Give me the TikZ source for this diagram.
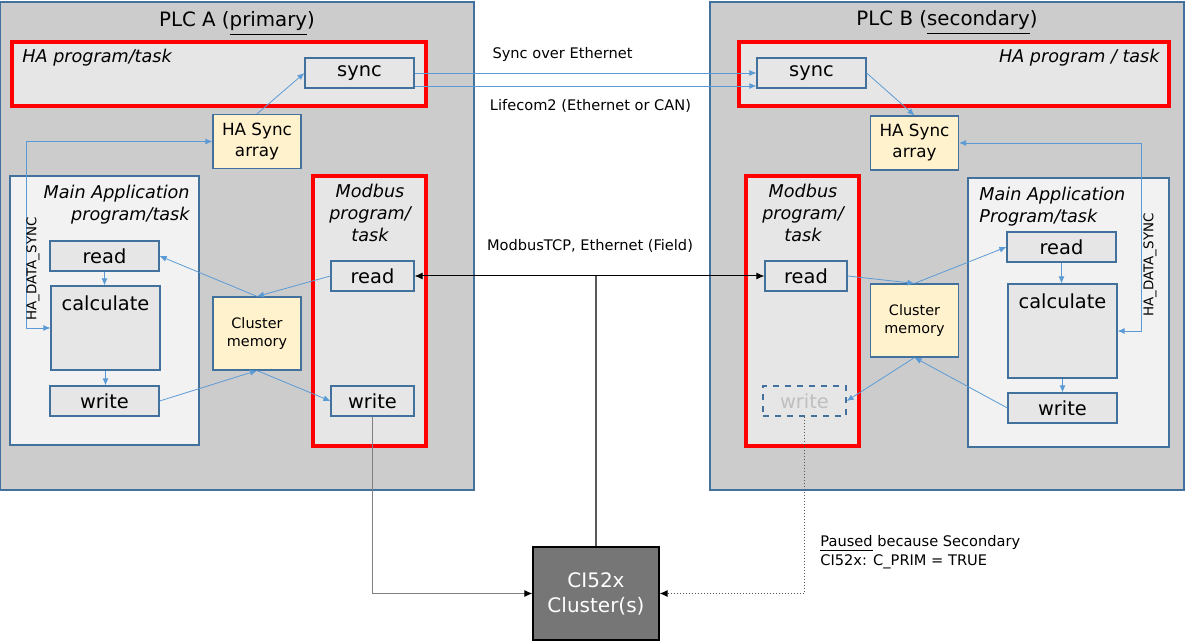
\documentclass[tikz,border=0pt]{standalone}
\usepackage{fontspec}
\setmainfont{DejaVu Sans}
\usetikzlibrary{arrows.meta}
\definecolor{plcgray}{RGB}{204,204,204}
\definecolor{frameblue}{RGB}{65,113,156}
\definecolor{taskred}{RGB}{255,0,0}
\definecolor{taskfill}{RGB}{230,230,230}
\definecolor{appfill}{RGB}{242,242,242}
\definecolor{memfill}{RGB}{255,242,204}
\definecolor{linkblue}{RGB}{91,155,213}
\definecolor{clustergray}{RGB}{118,118,118}
\definecolor{pausedgray}{RGB}{191,191,191}
\definecolor{wiregray}{RGB}{89,89,89}

\begin{document}
\begin{tikzpicture}[x=0.5pt, y=-0.5pt,
  plc/.style={draw=frameblue, fill=plcgray, line width=0.6pt, inner sep=0pt, minimum width=237pt, minimum height=244pt},
  taskbox/.style={draw=taskred, fill=taskfill, line width=2pt, inner sep=0pt},
  appbox/.style={draw=frameblue, fill=appfill, line width=0.6pt, inner sep=0pt},
  stepbox/.style={draw=frameblue, fill=taskfill, line width=0.6pt, inner sep=0pt, minimum width=54.5pt, minimum height=15pt, font=\fontsize{9.7}{11}\selectfont},
  membox/.style={draw=frameblue, fill=memfill, line width=0.6pt, inner sep=0pt, minimum width=44pt, align=center},
  tasklabel/.style={inner sep=0pt, font=\fontsize{8.8}{11}\selectfont\itshape},
  linklabel/.style={inner sep=0pt, font=\fontsize{7.3}{9.5}\selectfont},
  synclabel/.style={inner sep=0pt, rotate=90, font=\fontsize{6.7}{8}\selectfont},
  flow/.style={draw=linkblue, line width=0.4pt, -{Latex[length=3.5pt,width=3pt]}},
  both/.style={draw=linkblue, line width=0.4pt, {Latex[length=3.5pt,width=3pt]}-{Latex[length=3.5pt,width=3pt]}}
]
  \useasboundingbox (0,0) rectangle (1185,641);

  % PLC frames
  \node[plc] (plcA) at (237,246) {};
  \node[plc] (plcB) at (947,246) {};
  \node[anchor=base, inner sep=0pt, font=\fontsize{9.9}{12}\selectfont] (titleA) at (237,27) {PLC A (\underline{primary})};
  \node[anchor=base, inner sep=0pt, font=\fontsize{9.9}{12}\selectfont] (titleB) at (947,26) {PLC B (\underline{secondary})};

  % HA program/task
  \node[taskbox, minimum width=207pt, minimum height=32pt] (haA) at (219,74) {};
  \node[taskbox, minimum width=215pt, minimum height=32pt] (haB) at (954,74) {};
  \node[tasklabel, anchor=base west] (haAlbl) at (22,63) {HA program/task};
  \node[tasklabel, anchor=base east] (haBlbl) at (1160,63) {HA program / task};
  \node[stepbox] (syncA) at (359.5,73) {sync};
  \node[stepbox] (syncB) at (811.5,73) {sync};
  \node[membox, minimum height=27pt, font=\fontsize{8.4}{10.5}\selectfont] (arrA) at (257,141.5) {HA Sync\\array};
  \node[membox, minimum height=27pt, font=\fontsize{8.4}{10.5}\selectfont] (arrB) at (914.5,143) {HA Sync\\array};

  % Main application program/task
  \node[appbox, minimum width=94.5pt, minimum height=134.5pt] (appA) at (104.5,310.5) {};
  \node[appbox, minimum width=100.5pt, minimum height=134.5pt] (appB) at (1068.5,312.5) {};
  \node[tasklabel, anchor=north east, align=right] (appAlbl) at (190,185) {Main Application\\program/task};
  \node[tasklabel, anchor=north west, align=left] (appBlbl) at (979,187) {Main Application\\Program/task};
  \node[stepbox] (readA) at (104.5,256) {read};
  \node[stepbox, minimum height=42pt, label={[anchor=north, inner sep=5pt, font=\fontsize{9.7}{11}\selectfont]north:calculate}] (calcA) at (105.5,328) {};
  \node[stepbox] (writeA) at (104.5,401) {write};
  \node[stepbox] (readB) at (1061.5,247) {read};
  \node[stepbox, minimum height=47pt, label={[anchor=north, inner sep=5pt, font=\fontsize{9.7}{11}\selectfont]north:calculate}] (calcB) at (1062.5,331) {};
  \node[stepbox] (writeB) at (1062.5,408) {write};

  % Modbus program/task
  \node[taskbox, minimum width=56.5pt, minimum height=135pt] (mbA) at (369.5,311) {};
  \node[taskbox, minimum width=56.5pt, minimum height=135pt] (mbB) at (802.5,311) {};
  \node[tasklabel, anchor=north, align=center] (mbAlbl) at (370,184) {Modbus\\program/\\task};
  \node[tasklabel, anchor=north, align=center] (mbBlbl) at (803,184) {Modbus\\program/\\task};
  \node[stepbox, minimum width=41.5pt] (mreadA) at (372.5,276) {read};
  \node[stepbox, minimum width=41.5pt] (mwriteA) at (372.5,401) {write};
  \node[stepbox, minimum width=41pt] (mreadB) at (806,276) {read};
  \node[stepbox, minimum width=41.5pt, dashed, text=pausedgray] (mwriteB) at (804.5,401) {write};

  % Cluster memory
  \node[membox, minimum height=36.5pt, font=\fontsize{7.2}{9}\selectfont] (memA) at (257,333.5) {Cluster\\memory};
  \node[membox, minimum height=36.5pt, font=\fontsize{7.2}{9}\selectfont] (memB) at (914.5,320.5) {Cluster\\memory};

  % CI52x
  \node[draw=black, fill=clustergray, line width=0.6pt, text=white, align=center, minimum width=63pt, minimum height=46.5pt, font=\fontsize{10}{12.5}\selectfont] (ci52) at (596,593.5) {CI52x\\Cluster(s)};

  % flows in PLC A
  \draw[flow] (arrA.north) -- (syncA.west);
  \draw[flow] (readA.south) -- (readA.south |- calcA.north);
  \draw[flow] (calcA.south) -- (calcA.south |- writeA.north);
  \draw[flow] (memA.north) -- (readA.east);
  \draw[flow] (mreadA.west) -- (memA.north);
  \draw[flow] (writeA.east) -- (memA.south);
  \draw[flow] (memA.south) -- (mwriteA.west);
  \draw[both] (calcA.west) -- ++(-24,0) |- (arrA.west);
  \node[synclabel] (dsA) at (33,269) {HA\_DATA\_SYNC};

  % flows in PLC B
  \draw[flow] (syncB.east) -- (arrB.north);
  \draw[flow] (readB.south) -- (readB.south |- calcB.north);
  \draw[flow] (calcB.south) -- (calcB.south |- writeB.north);
  \draw[flow] (mreadB.east) -- (memB.north);
  \draw[flow] (memB.north) -- (readB.west);
  \draw[flow] (memB.south) -- (mwriteB.east);
  \draw[flow] (writeB.west) -- (memB.south);
  \draw[both] (arrB.east) -- ++(182,0) |- (calcB.east);
  \node[synclabel] (dsB) at (1150,265) {HA\_DATA\_SYNC};

  % sync links
  \draw[flow] (syncA.east) -- (syncB.west);
  \draw[flow] ([yshift=-6.5pt]syncA.east) -- ([yshift=-6.5pt]syncB.west);
  \node[linklabel, anchor=base] (ethlbl) at (562.5,59) {Sync over Ethernet};
  \node[linklabel, anchor=base] (lifelbl) at (590.5,111) {Lifecom2 (Ethernet or CAN)};

  % field bus
  \draw[wiregray, line width=1pt] (ci52.north) -- (ci52.north |- mreadA.east);
  \draw[black, line width=0.5pt, {Latex[length=4pt,width=3.5pt]}-{Latex[length=4pt,width=3.5pt]}] (mreadA.east) -- (mreadB.west);
  \node[linklabel, anchor=base] (fieldlbl) at (590,251) {ModbusTCP, Ethernet (Field)};
  \draw[gray, line width=0.5pt, -{Latex[black,length=4pt,width=3.5pt]}] (mwriteA.south) |- (ci52.west);
  \draw[wiregray, line width=0.5pt, densely dotted, -{Latex[black,length=4pt,width=3.5pt]}] (mwriteB.south) |- (ci52.east);
  \node[linklabel, anchor=base west] (pausedlbl) at (820,547) {\underline{Paused} because Secondary};
  \node[linklabel, anchor=base west] (primlbl) at (820,566) {CI52x: C\_PRIM = TRUE};
\end{tikzpicture}
\end{document}
